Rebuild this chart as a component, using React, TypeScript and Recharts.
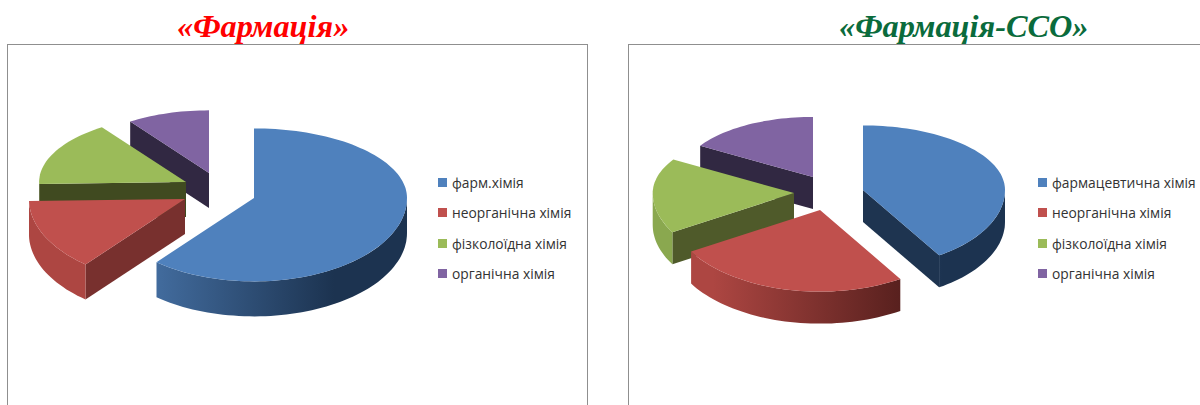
import { PieChart, Pie, Legend } from 'recharts';

// --- Data ---

const leftNames = ['фарм.хімія', 'неорганічна хімія', 'фізколоїдна хімія', 'органічна хімія'];
const leftValues = [61, 13.6, 15.7, 9.7];

const rightNames = ['фармацевтична хімія', 'неорганічна хімія', 'фізколоїдна хімія', 'органічна хімія'];
const rightValues = [41, 25.5, 17.2, 16.3];

const topColors = ['#4f81bd', '#c0504d', '#9bbb59', '#8064a2'];
const wallLight = ['#4d7cb4', '#ad4642', '#8aa84f', '#6f5690'];
const wallDark = ['#1c3350', '#451816', '#4f5e2a', '#312842'];

// exploded slice offsets from the pie centre, plus radius scale (fake perspective)
const leftExplode = [
  { dx: 0, dy: 0, k: 1 },
  { dx: -69, dy: 1, k: 1.02 },
  { dx: -68, dy: -16, k: 0.96 },
  { dx: -45, dy: -25, k: 0.9 },
];
const rightExplode = [
  { dx: 0, dy: 0, k: 1 },
  { dx: -43, dy: 20, k: 1.055 },
  { dx: -69, dy: 3, k: 0.995 },
  { dx: -50, dy: -13, k: 0.93 },
];
const leftCuts = ['#1c3350', '#78302e', '#404a20', '#312842'];
const rightCuts = ['#1e3450', '#78302e', '#4f5a2a', '#312842'];

const TILT_BACK = 0.455;
const TILT_FRONT = 0.545;

// --- Custom 3D slice ---

const Slice3D = (props: any) => {
  const { cx, cy, outerRadius, startAngle, endAngle, payload, chartId, explode, cuts, depth } = props;
  const idx = payload.order;
  const { dx, dy, k } = explode[idx];
  const r = outerRadius * k;
  const ox = cx + dx;
  const oy = cy + dy;

  // library angles -> clockwise degrees from 12 o'clock
  let lo = 90 - endAngle;
  let hi = 90 - startAngle;
  if (lo < 0) {
    lo += 360;
    hi += 360;
  }

  const pt = (a: number, drop = 0) => {
    const rad = (a * Math.PI) / 180;
    const c = Math.cos(rad);
    const y = oy - r * c * (c > 0 ? TILT_BACK : TILT_FRONT) + drop;
    return [ox + r * Math.sin(rad), y];
  };
  const arc = (from: number, to: number, drop = 0) => {
    const pts = [];
    const steps = Math.max(2, Math.ceil(Math.abs(to - from) / 2));
    for (let i = 0; i <= steps; i++) {
      pts.push(pt(from + ((to - from) * i) / steps, drop));
    }
    return pts;
  };
  const toPath = (pts: number[][]) => 'M' + pts.map((p) => `${p[0].toFixed(1)},${p[1].toFixed(1)}`).join('L') + 'Z';

  const apex = [ox, oy];
  const apexLow = [ox, oy + depth];
  const gradId = `${chartId}-wall-${idx}`;
  const arcFrom = Math.max(lo, 90);
  const arcTo = Math.min(hi, 270);

  return (
    <g>
      <defs>
        <linearGradient id={gradId} gradientUnits="userSpaceOnUse" x1={cx - 150} x2={cx + 80} y1={0} y2={0}>
          <stop offset="0%" stopColor={wallLight[idx]} />
          <stop offset="100%" stopColor={wallDark[idx]} />
        </linearGradient>
      </defs>
      {lo > 180 && lo < 360 && <path d={toPath([apex, pt(lo), pt(lo, depth), apexLow])} fill={cuts[idx]} />}
      {hi > 0 && hi < 180 && <path d={toPath([apex, pt(hi), pt(hi, depth), apexLow])} fill={cuts[idx]} />}
      {arcTo > arcFrom && (
        <path d={toPath([...arc(arcFrom, arcTo), ...arc(arcTo, arcFrom, depth)])} fill={`url(#${gradId})`} />
      )}
      <path d={toPath([apex, ...arc(lo, hi)])} fill={topColors[idx]} />
    </g>
  );
};

// --- Legend ---

const renderLegend = (props: any) => {
  const items = [...props.payload].sort((a: any, b: any) => a.payload.order - b.payload.order);
  return (
    <div>
      {items.map((item: any) => (
        <div key={item.value} style={{ display: 'flex', alignItems: 'center', height: 30.5 }}>
          <span style={{ width: 9, height: 9, marginRight: 5, background: item.color, flex: 'none' }} />
          <span style={{ fontFamily: '"Open Sans", sans-serif', fontSize: 13.8, color: '#333', whiteSpace: 'nowrap' }}>
            {item.value}
          </span>
        </div>
      ))}
    </div>
  );
};

// --- One exploded pie ---

const ExplodedPie = ({ id, left, names, values, cx, cy, radius, depth, explode, cuts }: any) => {
  // painted back to front: purple first, blue last
  const rows = names
    .map((name: string, i: number) => ({ name, value: values[i], order: i, fill: topColors[i] }))
    .reverse();

  return (
    <div style={{ position: 'absolute', left, top: 0 }}>
      <PieChart width={600} height={405} margin={{ top: 0, right: 0, bottom: 0, left: 0 }}>
        <Pie
          data={rows}
          dataKey="value"
          nameKey="name"
          cx={cx}
          cy={cy}
          outerRadius={radius}
          startAngle={90}
          endAngle={450}
          stroke="none"
          isAnimationActive={false}
          shape={(p: any) => <Slice3D {...p} chartId={id} explode={explode} cuts={cuts} depth={depth} />}
        />
        <Legend
          content={renderLegend}
          layout="vertical"
          wrapperStyle={{ position: 'absolute', left: 438, top: 167, width: 162, bottom: 'auto', right: 'auto' }}
        />
      </PieChart>
    </div>
  );
};

const titleStyle = {
  position: 'absolute',
  top: 8,
  fontFamily: '"Liberation Serif", serif',
  fontWeight: 'bold',
  fontStyle: 'italic',
  fontSize: 32.3,
  lineHeight: '36px',
  whiteSpace: 'nowrap',
} as const;

const frameStyle = {
  position: 'absolute',
  top: 44,
  height: 400,
  borderLeft: '1px solid #8f8f8f',
  borderTop: '1px solid #8f8f8f',
  borderRight: '1px solid #8f8f8f',
} as const;

export default function App() {
  return (
    <div style={{ position: 'fixed', left: 0, top: 0, width: 1200, height: 405, overflow: 'hidden', background: '#fff' }}>
      <div style={{ ...frameStyle, left: 7, width: 579 }} />
      <div style={{ ...frameStyle, left: 628, width: 600 }} />
      <div style={{ ...titleStyle, left: 177, color: '#ff0000' }}>«Фармація»</div>
      <div style={{ ...titleStyle, left: 839, color: '#0a6b3c' }}>«Фармація-ССО»</div>
      <ExplodedPie
        id="left"
        left={0}
        names={leftNames}
        values={leftValues}
        cx={254}
        cy={198}
        radius={153}
        depth={35}
        explode={leftExplode}
        cuts={leftCuts}
      />
      <ExplodedPie
        id="right"
        left={600}
        names={rightNames}
        values={rightValues}
        cx={263}
        cy={190}
        radius={142}
        depth={32}
        explode={rightExplode}
        cuts={rightCuts}
      />
    </div>
  );
}
